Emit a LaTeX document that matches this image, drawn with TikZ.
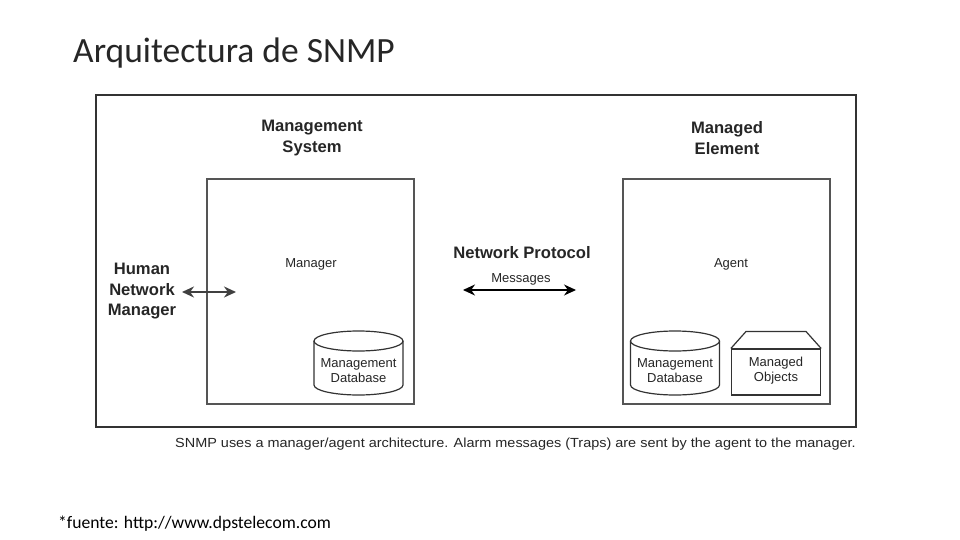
\documentclass[tikz,border=0pt]{standalone}
\usepackage{fontspec}
\setmainfont{Liberation Sans}
\newfontfamily\calib{Carlito}
\usetikzlibrary{arrows.meta}
\definecolor{frame}{HTML}{333333}
\definecolor{boxc}{HTML}{555555}
\tikzset{
  boldlbl/.style={font=\fontsize{16.6}{20.5}\selectfont\bfseries, text=black!85, align=center, inner sep=0pt},
  plainlbl/.style={font=\fontsize{13}{15.5}\selectfont, text=black!85, align=center, inner sep=0pt},
  inbox/.style={draw=boxc, line width=1.3pt, inner sep=0pt},
  shapeline/.style={draw=black!80, line width=1.2pt},
  dblarrow/.style={{Stealth[length=12pt,width=11pt]}-{Stealth[length=12pt,width=11pt]}},
}
\begin{document}
\begin{tikzpicture}[x=1pt,y=-1pt]
\useasboundingbox[fill=white] (0,0) rectangle (960,540);
% title
\node[anchor=base west, inner sep=0pt, font=\calib\fontsize{35.5}{38}\selectfont, text=black!85] (title) at (73,63) {Arquitectura de SNMP};
% outer frame
\node[draw=frame, line width=2pt, minimum width=760pt, minimum height=332pt, inner sep=0pt] (frame) at (476,261) {};
% management system
\node[boldlbl] (mslbl) at (312,138) {Management\\System};
\node[inbox, minimum width=207pt, minimum height=225pt] (msbox) at (310.5,291.5) {};
\node[plainlbl] (mgr) at (311,264) {Manager};
% database 1
\node[minimum width=89pt, minimum height=65pt, inner sep=0pt] (db1) at (358.5,363) {};
\draw[shapeline, fill=white] (314,341) -- (314,385) arc[start angle=180, end angle=360, x radius=44.5pt, y radius=10pt] -- (403,341);
\draw[shapeline, fill=white] (358.5,341) ellipse[x radius=44.5pt, y radius=10pt];
\node[plainlbl] (db1t) at (358.5,370.5) {Management\\Database};
% human
\node[boldlbl] (human) at (142,291.5) {Human\\Network\\Manager};
\coordinate (ha) at (182,292);
\coordinate (hb) at (236,292);
\draw[dblarrow, draw=black!75, line width=1.8pt] (ha) -- (hb);
% network protocol
\node[boldlbl] (np) at (522,253) {Network Protocol};
\node[plainlbl] (msg) at (521,279) {Messages};
\coordinate (ma) at (463,290);
\coordinate (mb) at (576,290);
\draw[dblarrow, draw=black, line width=1.1pt] (ma) -- (mb);
% managed element
\node[boldlbl] (melbl) at (727,138) {Managed\\Element};
\node[inbox, minimum width=207pt, minimum height=225pt] (agbox) at (726.5,291.5) {};
\node[plainlbl] (agent) at (731,264) {Agent};
% database 2
\node[minimum width=89pt, minimum height=65pt, inner sep=0pt] (db2) at (675,363) {};
\draw[shapeline, fill=white] (630.5,341) -- (630.5,385) arc[start angle=180, end angle=360, x radius=44.5pt, y radius=10pt] -- (719.5,341);
\draw[shapeline, fill=white] (675,341) ellipse[x radius=44.5pt, y radius=10pt];
\node[plainlbl] (db2t) at (675,370.5) {Management\\Database};
% managed objects
\node[shapeline, minimum width=89pt, minimum height=46pt, inner sep=0pt] (mo) at (776,372) {};
\coordinate (mo1) at (746,331.5);
\coordinate (mo2) at (806,331.5);
\draw[shapeline, line join=miter] (mo.north west) -- (mo1) -- (mo2) -- (mo.north east);
\node[plainlbl] (mot) at (776,370.5) {Managed\\Objects};
% caption
\node[anchor=base west, inner sep=0pt, font=\fontsize{13.2}{15}\selectfont, text=black!85] (cap) at (175,447) {\scalebox{1.095}[1]{SNMP uses a manager/agent architecture. Alarm messages (Traps) are sent by the agent to the manager.}};
% footnote
\node[anchor=base west, inner sep=0pt, font=\calib\fontsize{17.6}{19}\selectfont, text=black] (foot) at (58,528) {*fuente: http://www.dpstelecom.com};
\end{tikzpicture}
\end{document}
